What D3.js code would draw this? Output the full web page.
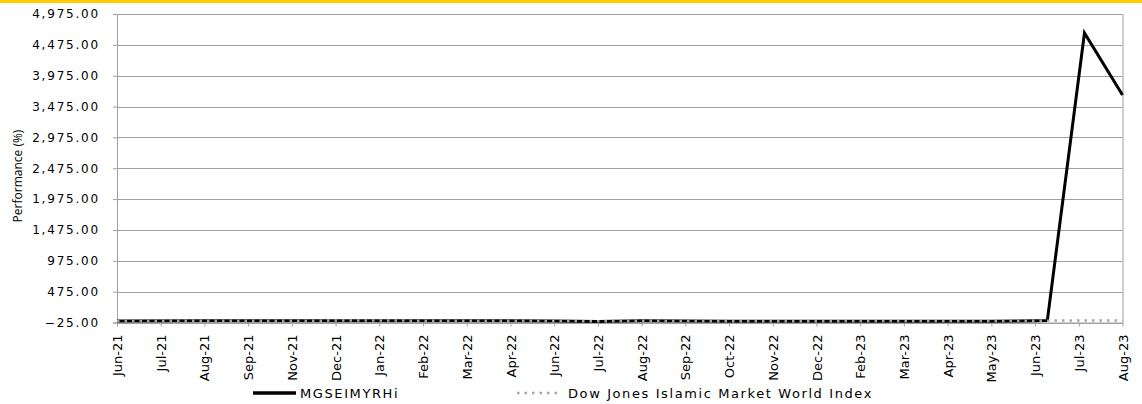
<!DOCTYPE html>
<html>
<head>
<meta charset="utf-8">
<script src="https://cdn.jsdelivr.net/npm/d3@7"></script>
<style>
  body { margin: 0; background: #fff; }
  svg text { font-family: "DejaVu Sans", Verdana, sans-serif; fill: #000; }
</style>
</head>
<body>
<div id="chart"></div>
<script>
const w = 1142, h = 404

// tick labels along the x axis (one per tick, equally spaced)
const tickLabels = ["Jun-21", "Jul-21", "Aug-21", "Sep-21", "Nov-21", "Dec-21", "Jan-22", "Feb-22",
  "Mar-22", "Apr-22", "Jun-22", "Jul-22", "Aug-22", "Sep-22", "Oct-22", "Nov-22", "Dec-22",
  "Feb-23", "Mar-23", "Apr-23", "May-23", "Jun-23", "Jul-23", "Aug-23"]
const yTicks = [-25, 475, 975, 1475, 1975, 2475, 2975, 3475, 3975, 4475, 4975]

// series, x given in tick units
const mgsX = [0, 2, 4, 6, 8, 10, 11, 12, 14, 16, 18, 20, 21, 21.28, 22.13, 23]
const mgsY = [0, 2, 3, 2, 3, 1, -10, 2, -4, -5, -6, -5, 4, 6, 4667, 3661]
const djX = [0, 2, 4, 6, 8, 10, 11, 12, 14, 16, 18, 20, 21, 22, 23]
const djY = [0, 3, 5, 6, 4, 1, -6, 3, -5, -3, -2, 0, 4, 8, 6]

const seriesNames = ["MGSEIMYRHi", "Dow Jones Islamic Market World Index"]

var margin = {top: 14, right: 19.5, bottom: 81.5, left: 117}
var width = w - margin.left - margin.right,
  height = h - margin.top - margin.bottom

var svg = d3.select("#chart").append("svg")
  .attr("width", w)
  .attr("height", h)

// yellow rule on top
svg.append("rect")
  .attr("x", 0).attr("y", 0)
  .attr("width", w).attr("height", 3)
  .attr("fill", "#ffcc00")

var g = svg.append("g")
  .attr("transform", "translate(" + margin.left + "," + margin.top + ")")

var xScale = d3.scaleLinear().domain([0, tickLabels.length - 1]).range([0, width])
var yScale = d3.scaleLinear().domain([-25, 4975]).range([height, 0])

// gridlines
g.append("g")
  .selectAll("line")
  .data(yTicks)
  .join("line")
  .attr("x1", 0).attr("x2", width)
  .attr("y1", d => Math.round(yScale(d)) + 0.5)
  .attr("y2", d => Math.round(yScale(d)) + 0.5)
  .attr("stroke", "#a0a0a0")

// right border
g.append("line")
  .attr("x1", width + 0.5).attr("x2", width + 0.5)
  .attr("y1", 0).attr("y2", height)
  .attr("stroke", "#a0a0a0")

var yAxis = d3.axisLeft(yScale)
  .tickValues(yTicks)
  .tickFormat(d3.format(",.2f"))
  .tickSize(4)
  .tickPadding(13)

var yG = g.append("g").call(yAxis)
yG.select(".domain").attr("stroke", "#a0a0a0")
yG.selectAll(".tick line").attr("stroke", "#a0a0a0")
yG.selectAll(".tick text")
  .style("font-size", "12px")
  .style("letter-spacing", "1.8px")

var xAxis = d3.axisBottom(xScale)
  .tickValues(d3.range(tickLabels.length))
  .tickFormat(i => tickLabels[i])
  .tickSize(4)
  .tickSizeOuter(0)

var xG = g.append("g")
  .attr("transform", "translate(0," + height + ")")
  .call(xAxis)
xG.select(".domain").attr("stroke", "#a0a0a0")
xG.selectAll(".tick line").attr("stroke", "#a0a0a0")
xG.selectAll(".tick text")
  .style("font-size", "13px")
  .attr("transform", "rotate(-90)")
  .attr("x", -12)
  .attr("y", 0)
  .attr("dy", "0.35em")
  .style("text-anchor", "end")

// y axis title
svg.append("text")
  .attr("transform", "translate(22,176) rotate(-90)")
  .attr("text-anchor", "middle")
  .style("font-family", "'Open Sans', sans-serif")
  .style("font-size", "12px")
  .text("Performance (%)")

var line = d3.line()
  .x(d => xScale(d[0]))
  .y(d => yScale(d[1]))

g.append("path")
  .attr("d", line(mgsX.map((x, i) => [x, mgsY[i]])))
  .attr("fill", "none")
  .attr("stroke", "#000")
  .attr("stroke-width", 3)
  .attr("stroke-linejoin", "miter")

g.append("path")
  .attr("d", line(djX.map((x, i) => [x, djY[i]])))
  .attr("fill", "none")
  .attr("stroke", "#a6a6a6")
  .attr("stroke-width", 2.5)
  .attr("stroke-dasharray", "2.5,5")

// legend
var legend = svg.append("g").attr("transform", "translate(0,393)")
var legendX = [253, 517]
seriesNames.forEach((name, i) => {
  var lg = legend.append("g").attr("transform", "translate(" + legendX[i] + ",0)")
  lg.append("line")
    .attr("x1", 0).attr("x2", i == 0 ? 43 : 42)
    .attr("y1", 0).attr("y2", 0)
    .attr("stroke", i == 0 ? "#000" : "#a6a6a6")
    .attr("stroke-width", i == 0 ? 3.5 : 2.5)
    .attr("stroke-dasharray", i == 0 ? null : "2.5,5")
  lg.append("text")
    .attr("x", i == 0 ? 47 : 51)
    .attr("dy", "0.35em")
    .style("font-size", "13px")
    .style("letter-spacing", "1.6px")
    .text(name)
})
</script>
</body>
</html>
